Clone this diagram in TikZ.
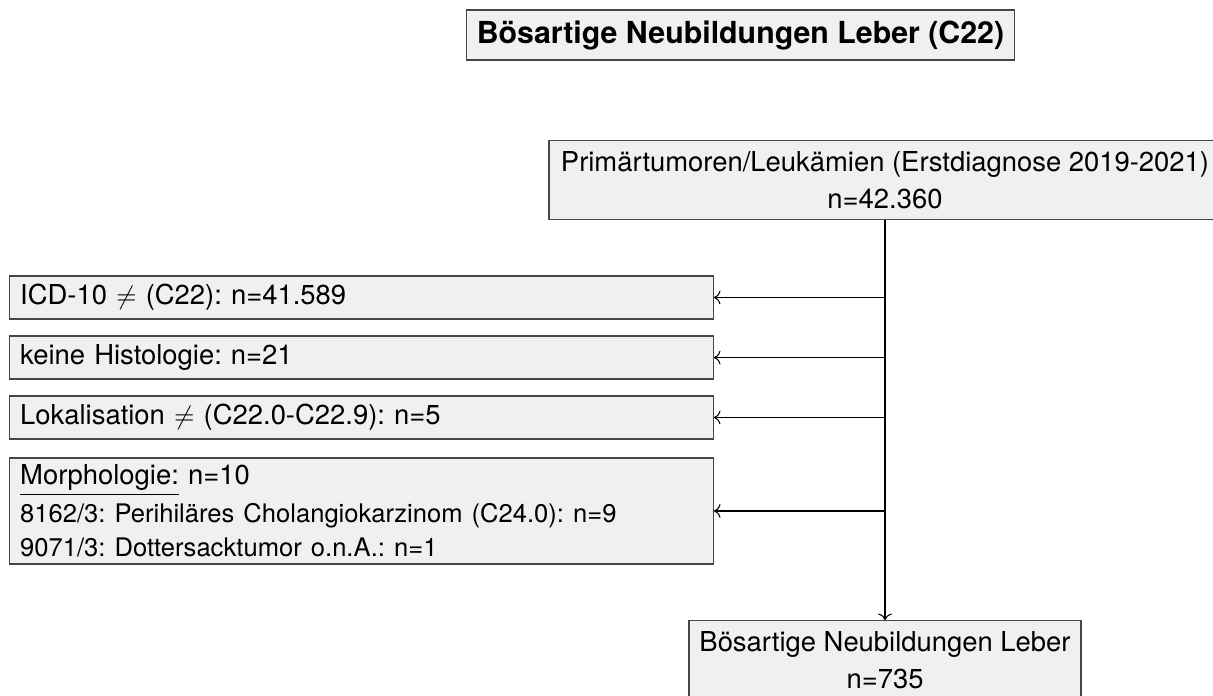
\documentclass[tikz,border=0pt]{standalone}
\usepackage{fontspec}
\setmainfont{TeX Gyre Heros}
\usepackage{tikz}
\usetikzlibrary{arrows.meta,positioning,calc}
\definecolor{boxfill}{RGB}{240,240,240}
\definecolor{boxdraw}{RGB}{70,70,70}
\frenchspacing

\begin{document}
\begin{tikzpicture}[every node/.style={font=\fontsize{10.4}{13}\selectfont},
  box/.style={draw=boxdraw,fill=boxfill,inner sep=4pt,line width=0.5pt},
  exbox/.style={box,anchor=west,inner ysep=1pt,minimum width=9.32cm,text width=9.1cm,align=left}]
\useasboundingbox (0,0) rectangle (16.173,-9.28);
% Title
\node[box,minimum width=7.21cm,minimum height=0.61cm,font=\fontsize{11.5}{14}\selectfont\bfseries] (title) at (9.873,-0.467) {Bösartige Neubildungen Leber (C22)};
% Start and result
\def\xm{11.8}
\node[box,minimum width=8.96cm,minimum height=0.907cm,align=center] (start) at (\xm,-2.4)
  {Primärtumoren/Leukämien (Erstdiagnose 2019-2021)\\[1pt]n=42.360};
\node[box,minimum width=5.13cm,minimum height=0.907cm,align=center] (result) at (\xm,-8.8)
  {Bösartige Neubildungen Leber\\[1pt]n=735};
% Exclusions
\node[exbox,minimum height=0.573cm] (ex1) at (0.12,-3.967) {ICD-10 $\neq$ (C22): n=41.589};
\node[exbox,minimum height=0.573cm] (ex2) at (0.12,-4.767) {keine Histologie: n=21};
\node[exbox,minimum height=0.573cm] (ex3) at (0.12,-5.567) {Lokalisation $\neq$ (C22.0-C22.9): n=5};
\node[exbox,minimum height=1.413cm] (ex4) at (0.12,-6.813)
  {\underline{Morphologie:} n=10\\[1.5pt]
   {\fontsize{9.7}{12}\selectfont 8162/3: Perihiläres Cholangiokarzinom (C24.0): n=9}\\
   {\fontsize{9.7}{12}\selectfont 9071/3: Dottersacktumor o.n.A.: n=1}};
% Connectors
\draw[->] (start.south) -- (result.north);
\foreach \e in {ex1,ex2,ex3,ex4}{
  \draw[->] (start.south |- \e.east) -- (\e.east);
}
\end{tikzpicture}
\end{document}
